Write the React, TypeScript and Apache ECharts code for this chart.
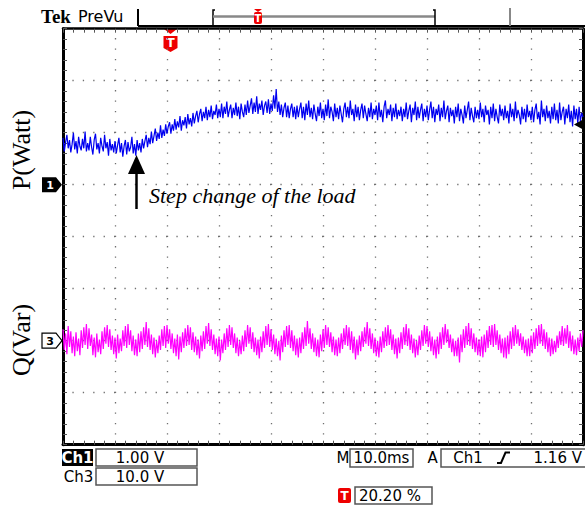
import React, { useEffect, useRef } from "react";
import * as echarts from "echarts";

// Oscilloscope settings
const SAMPLE_MS = 0.25; // time between samples (10 ms/div, 10 divisions)
const TIME_RANGE_MS = [0, 100];
const CH1_VOLTS_PER_DIV = 1; // P(Watt)
const CH3_VOLTS_PER_DIV = 10; // Q(Var)
const CH1_GROUND_DIV = 1;
const CH3_GROUND_DIV = -2;
const TRIGGER_LEVEL_V = 1.16;

// Ch1 trace (V)
const P_VOLTS = [
  0.9, 0.64, 0.82, 0.96, 0.7, 0.86, 0.62, 0.78, 1.0, 0.68, 0.84, 0.6, 0.92, 0.74, 0.66, 0.88, 0.7, 1.02, 0.64, 0.8,
  0.66, 0.92, 0.72, 0.58, 0.86, 0.98, 0.68, 0.8, 0.6, 0.9, 0.74, 0.64, 0.96, 0.7, 0.82, 0.56, 0.88, 0.66, 0.78, 0.62,
  0.84, 0.6, 0.76, 0.9, 0.62, 0.8, 0.54, 0.74, 0.86, 0.58, 0.82, 0.64, 0.72, 0.92, 0.6, 0.78, 0.56, 0.86, 0.66, 0.8,
  0.62, 0.88, 0.7, 0.84, 0.96, 0.72, 0.9, 0.78, 1.02, 0.8, 0.94, 1.08, 0.84, 1.0, 0.88, 1.14, 0.9, 1.06, 0.94, 1.16,
  0.98, 1.12, 1.2, 0.98, 1.16, 1.04, 1.26, 1.06, 1.22, 1.1, 1.32, 1.04, 1.24, 1.14, 1.3, 1.08, 1.36, 1.16, 1.28, 1.12,
  1.38, 1.18, 1.32, 1.42, 1.2, 1.36, 1.46, 1.22, 1.4, 1.28, 1.5, 1.24, 1.44, 1.3, 1.52, 1.26, 1.42, 1.34, 1.54, 1.28,
  1.46, 1.3, 1.56, 1.28, 1.5, 1.36, 1.6, 1.3, 1.44, 1.54, 1.28, 1.48, 1.34, 1.58, 1.32, 1.5, 1.26, 1.56, 1.4, 1.3,
  1.54, 1.34, 1.62, 1.38, 1.52, 1.66, 1.36, 1.58, 1.4, 1.7, 1.36, 1.56, 1.44, 1.62, 1.34, 1.52, 1.6, 1.38, 1.64, 1.36,
  1.56, 1.42, 1.72, 1.46, 1.84, 1.4, 1.6, 1.34, 1.54, 1.3, 1.48, 1.58, 1.3, 1.52, 1.28, 1.46, 1.56, 1.3, 1.5, 1.26,
  1.52, 1.3, 1.46, 1.58, 1.28, 1.5, 1.24, 1.56, 1.34, 1.62, 1.3, 1.48, 1.26, 1.54, 1.36, 1.22, 1.5, 1.32, 1.58, 1.28,
  1.46, 1.24, 1.54, 1.32, 1.64, 1.28, 1.5, 1.4, 1.22, 1.56, 1.3, 1.48, 1.26, 1.52, 1.36, 1.2, 1.46, 1.58, 1.3, 1.5,
  1.28, 1.62, 1.34, 1.46, 1.22, 1.54, 1.3, 1.5, 1.24, 1.44, 1.56, 1.28, 1.52, 1.36, 1.22, 1.48, 1.3, 1.58, 1.26, 1.46,
  1.34, 1.52, 1.24, 1.58, 1.3, 1.44, 1.2, 1.5, 1.62, 1.28, 1.46, 1.34, 1.54, 1.22, 1.48, 1.3, 1.56, 1.26, 1.44, 1.32,
  1.5, 1.22, 1.46, 1.3, 1.58, 1.26, 1.42, 1.54, 1.2, 1.48, 1.34, 1.6, 1.24, 1.5, 1.28, 1.44, 1.56, 1.22, 1.46, 1.3,
  1.52, 1.24, 1.44, 1.6, 1.28, 1.5, 1.2, 1.46, 1.34, 1.54, 1.22, 1.48, 1.3, 1.62, 1.26, 1.42, 1.52, 1.2, 1.48, 1.32,
  1.44, 1.18, 1.5, 1.3, 1.56, 1.22, 1.46, 1.34, 1.18, 1.52, 1.28, 1.44, 1.6, 1.24, 1.48, 1.32, 1.2, 1.5, 1.28, 1.44,
  1.26, 1.58, 1.3, 1.46, 1.2, 1.52, 1.34, 1.44, 1.16, 1.5, 1.28, 1.56, 1.22, 1.46, 1.3, 1.18, 1.54, 1.32, 1.46, 1.24,
  1.52, 1.28, 1.42, 1.18, 1.56, 1.3, 1.46, 1.22, 1.6, 1.28, 1.44, 1.34, 1.16, 1.5, 1.26, 1.46, 1.2, 1.54, 1.3, 1.42,
  1.24, 1.5, 1.2, 1.44, 1.56, 1.26, 1.4, 1.16, 1.62, 1.3, 1.46, 1.22, 1.52, 1.28, 1.42, 1.18, 1.5, 1.26, 1.56, 1.24,
  1.44, 1.18, 1.58, 1.24, 1.4, 1.5, 1.16, 1.46, 1.28, 1.54, 1.2, 1.42, 1.12, 1.52, 1.26, 1.46, 1.18, 1.5, 1.22, 1.38,
  1.3,
];

// Ch3 trace (V)
const Q_VOLTS = [
  2.2, -1.8, 1.4, -2.6, 2.8, -1.2, 1.8, -2.4, 0.8, -3.0, 1.6, -2.0, 0.4, -2.8, 2.0, -1.4, 2.6, -0.8, 3.2, -1.6,
  2.4, -1.0, 1.2, -2.8, 0.6, -3.2, 1.4, -2.2, 0.2, -2.6, 1.8, -1.6, 2.6, -0.6, 3.0, -1.2, 2.2, -1.8, 1.0, -2.6,
  0.6, -3.4, 1.2, -2.4, 0.4, -2.0, 2.0, -1.0, 2.8, -1.4, 3.2, -0.8, 2.0, -2.0, 1.0, -2.8, 0.2, -3.0, 1.4, -2.2,
  1.8, -1.6, 2.6, -0.8, 3.6, -1.2, 2.4, -1.8, 1.2, -2.6, 0.6, -3.2, 0.0, -2.4, 1.0, -1.8, 2.2, -1.0, 2.8, -1.4,
  3.0, -0.6, 2.2, -1.6, 1.4, -2.4, 0.4, -3.0, 1.2, -3.6, 0.8, -2.2, 1.6, -1.4, 2.4, -1.0, 3.0, -0.8, 2.6, -1.8,
  1.6, -2.2, 0.8, -2.8, 0.2, -3.4, 1.0, -2.0, 1.8, -1.6, 2.8, -0.6, 3.4, -1.0, 2.2, -1.8, 1.2, -2.6, 0.4, -3.0,
  0.8, -3.8, 0.2, -2.4, 1.4, -1.8, 2.4, -1.2, 3.0, -0.8, 2.6, -1.4, 1.4, -2.4, 0.6, -3.0, 0.0, -2.6, 1.0, -2.0,
  2.0, -1.2, 3.0, -0.6, 2.6, -1.6, 1.6, -2.2, 0.6, -2.8, 0.2, -3.4, 0.8, -2.2, 1.8, -1.4, 2.8, -0.8, 3.2, -1.2,
  2.2, -1.8, 1.2, -2.6, 0.4, -3.0, 0.0, -3.8, 1.0, -2.2, 2.0, -1.2, 2.8, -0.8, 3.0, -1.4, 2.0, -2.0, 1.0, -2.8,
  0.4, -3.2, 0.6, -2.4, 1.6, -1.6, 2.6, -1.0, 3.8, -0.6, 2.4, -1.6, 1.4, -2.2, 0.6, -3.0, 0.2, -3.2, 1.2, -2.0,
  2.2, -1.4, 3.0, -0.8, 2.6, -1.2, 1.6, -2.2, 0.8, -2.8, 0.2, -3.0, 0.6, -2.4, 1.4, -1.6, 2.4, -0.8, 3.0, -1.0,
  2.6, -1.8, 1.8, -2.4, 0.8, -3.6, 0.2, -2.8, 1.0, -2.0, 1.8, -1.2, 2.6, -0.6, 3.6, -1.0, 2.4, -1.6, 1.4, -2.4,
  0.6, -3.0, 0.0, -3.2, 0.8, -2.2, 1.8, -1.4, 2.6, -1.0, 3.0, -0.8, 2.2, -1.8, 1.2, -2.6, 0.4, -3.4, 0.6, -2.4,
  1.6, -1.6, 2.6, -0.8, 3.2, -1.0, 2.4, -1.8, 1.2, -2.4, 0.4, -3.2, 0.0, -2.8, 1.0, -1.8, 2.0, -1.0, 3.0, -0.6,
  2.8, -1.2, 1.8, -2.0, 0.8, -2.8, 0.2, -3.4, 0.8, -2.6, 1.6, -1.6, 2.6, -0.8, 3.2, -0.4, 2.2, -1.4, 1.2, -2.2,
  0.4, -3.0, 0.0, -3.0, 0.6, -4.2, 1.2, -2.2, 2.2, -1.4, 2.8, -0.8, 3.4, -1.0, 2.4, -1.6, 1.4, -2.2, 0.6, -2.8,
  0.2, -3.0, 0.8, -3.2, 1.2, -2.2, 2.0, -1.4, 2.8, -0.8, 3.0, -1.2, 3.2, -0.8, 2.0, -1.8, 1.2, -2.4, 0.4, -3.2,
  0.6, -3.4, 1.0, -2.6, 1.8, -1.6, 2.6, -1.0, 3.0, -0.6, 2.2, -1.0, 1.4, -1.8, 0.8, -2.4, 0.2, -3.0, 0.4, -3.0,
  1.0, -2.4, 1.6, -1.6, 2.4, -1.0, 3.0, -0.6, 3.2, -1.0, 2.2, -1.6, 1.6, -2.2, 0.6, -3.0, 0.4, -2.6, 0.0, -2.2,
  1.0, -1.4, 1.8, -0.8, 2.8, -1.0, 2.4, -0.6, 3.0, -1.4, 1.8, -2.0, 1.0, -2.6, 0.2, -2.8, 0.6, -2.0, 1.4, -1.2,
  2.0,
];

// Screen texts
const CH1_LABEL = "P(Watt)";
const CH3_LABEL = "Q(Var)";
const ANNOTATION = "Step change of the load";
const CH1_SCALE = "1.00 V";
const CH3_SCALE = "10.0 V";
const TIMEBASE = "10.0ms";
const TRIGGER_SOURCE = "Ch1";
const TRIGGER_LEVEL = "1.16 V";
const TRIGGER_POS = "20.20 %";

const SANS = '"DejaVu Sans", sans-serif';
const SERIF = '"Liberation Serif", "Times New Roman", serif';

const txt = (x: number, y: number, text: string, font: string, fill = "#000", align = "left", extra: any = {}) => ({
  type: "text",
  x,
  y,
  style: { text, font, fill, align, verticalAlign: "middle", textAlign: align, textVerticalAlign: "middle" },
  ...extra,
});

const box = (x: number, y: number, w: number, h: number) => ({
  type: "rect",
  shape: { x, y, width: w, height: h },
  style: { fill: "none", stroke: "#555", lineWidth: 1.5 },
});

const tBadge = (cx: number, y: number, w: number, h: number, size: number) => [
  {
    type: "rect",
    shape: { x: cx - w / 2, y, width: w, height: h, r: 2 },
    style: { fill: "#ee0000" },
  },
  txt(cx, y + h / 2 + 0.5, "T", `bold ${size}px ${SANS}`, "#fff", "center"),
];

export default function App() {
  const ref = useRef<HTMLDivElement>(null);
  useEffect(() => {
    document.body.style.margin = "0";
    if (!ref.current) return;
    const chart = echarts.init(ref.current, null, { renderer: "svg" });

    const pData = P_VOLTS.map((v, i) => [i * SAMPLE_MS, v / CH1_VOLTS_PER_DIV + CH1_GROUND_DIV]);
    const qData = Q_VOLTS.map((v, i) => [i * SAMPLE_MS, v / CH3_VOLTS_PER_DIV + CH3_GROUND_DIV]);

    const dotted = { color: "#6f6f6f", width: 1.3, type: [1.3, 9.1], dashOffset: 0.65 };
    const tick = { show: true, inside: true, length: 4, lineStyle: { color: "#555", width: 1 } };
    const minor = { show: true, splitNumber: 5, length: 4, lineStyle: { color: "#555", width: 1 } };
    const frame = { show: true, onZero: false, lineStyle: { color: "#000", width: 3 } };

    const gridTop = 28.7;
    const gridH = 416;
    const divPx = gridH / 8;
    const trigY = gridTop + gridH / 2 - (TRIGGER_LEVEL_V / CH1_VOLTS_PER_DIV + CH1_GROUND_DIV) * divPx;
    const ch1Y = gridTop + gridH / 2 - CH1_GROUND_DIV * divPx;
    const ch3Y = gridTop + gridH / 2 - CH3_GROUND_DIV * divPx;

    const graphics: any[] = [
      // top status bar
      txt(41, 16, "Tek", `bold 19px ${SERIF}`),
      txt(78, 16, "PreVu", `16px ${SANS}`),
      { type: "line", shape: { x1: 138, y1: 9, x2: 138, y2: 26 }, style: { stroke: "#000", lineWidth: 2 } },
      { type: "line", shape: { x1: 138, y1: 26, x2: 585, y2: 26 }, style: { stroke: "#000", lineWidth: 2 } },
      { type: "polyline", shape: { points: [[215, 10], [213, 10], [213, 26]] }, style: { stroke: "#000", lineWidth: 1.5, fill: "none" } },
      { type: "line", shape: { x1: 213, y1: 16.5, x2: 435, y2: 16.5 }, style: { stroke: "#888", lineWidth: 2.5 } },
      { type: "polyline", shape: { points: [[433, 10], [435, 10], [435, 26]] }, style: { stroke: "#000", lineWidth: 1.5, fill: "none" } },
      { type: "line", shape: { x1: 510, y1: 8, x2: 510, y2: 26 }, style: { stroke: "#888", lineWidth: 2 } },
      { type: "polygon", shape: { points: [[254, 9], [262, 9], [258, 12]] }, style: { fill: "#ee0000" } },
      ...tBadge(258, 12, 8, 12, 10),
      // trigger position marker
      { type: "polygon", shape: { points: [[164, 29], [177, 29], [170.5, 34]] }, style: { fill: "#ee0000" } },
      { type: "polygon", shape: { points: [[163.5, 36], [177.5, 36], [177.5, 48], [170.5, 52], [163.5, 48]] }, style: { fill: "#ee0000" } },
      txt(170.5, 43, "T", `bold 12px ${SANS}`, "#fff", "center"),
      // channel ground markers
      { type: "polygon", shape: { points: [[42, ch1Y - 7.5], [56, ch1Y - 7.5], [62, ch1Y], [56, ch1Y + 7.5], [42, ch1Y + 7.5]] }, style: { fill: "#000" } },
      txt(50, ch1Y + 0.5, "1", `bold 11px ${SANS}`, "#fff", "center"),
      { type: "polygon", shape: { points: [[42, ch3Y - 7.5], [56, ch3Y - 7.5], [62, ch3Y], [56, ch3Y + 7.5], [42, ch3Y + 7.5]] }, style: { fill: "#fff", stroke: "#000", lineWidth: 1.2 } },
      txt(50, ch3Y + 0.5, "3", `bold 11px ${SANS}`, "#000", "center"),
      // trigger level marker
      { type: "polygon", shape: { points: [[574, trigY], [583, trigY - 5], [583, trigY + 5]] }, style: { fill: "#000" }, z: 10 },
      // axis titles
      txt(21, 150, CH1_LABEL, `26px ${SERIF}`, "#000", "center", { rotation: Math.PI / 2 }),
      txt(21, 340, CH3_LABEL, `26px ${SERIF}`, "#000", "center", { rotation: Math.PI / 2 }),
      // annotation
      txt(149, 195, ANNOTATION, `italic 22px ${SERIF}`),
      { type: "line", shape: { x1: 136.5, y1: 170, x2: 136.5, y2: 209 }, style: { stroke: "#000", lineWidth: 2.5 }, z: 10 },
      { type: "polygon", shape: { points: [[136.5, 155], [145, 174], [128, 174]] }, style: { fill: "#000" }, z: 10 },
      // bottom readouts
      { type: "rect", shape: { x: 62, y: 449, width: 31, height: 17 }, style: { fill: "#000" } },
      txt(77.5, 458, "Ch1", `bold 15px ${SANS}`, "#fff", "center"),
      box(96, 449, 101, 17),
      txt(140, 458, CH1_SCALE, `15px ${SANS}`, "#000", "center"),
      txt(78.5, 476.5, "Ch3", `15px ${SANS}`, "#000", "center"),
      box(96, 468, 101, 17),
      txt(140, 476.5, CH3_SCALE, `15px ${SANS}`, "#000", "center"),
      txt(343, 458, "M", `15px ${SANS}`, "#000", "center"),
      box(350, 449, 63, 18),
      txt(381.5, 458, TIMEBASE, `15px ${SANS}`, "#000", "center"),
      txt(432.5, 458, "A", `15px ${SANS}`, "#000", "center"),
      box(441, 449, 150, 18),
      txt(468, 458, TRIGGER_SOURCE, `15px ${SANS}`, "#000", "center"),
      { type: "polyline", shape: { points: [[497, 463], [501, 463], [505.5, 452.5], [510, 452.5]] }, style: { stroke: "#000", lineWidth: 2, fill: "none" } },
      txt(582, 458, TRIGGER_LEVEL, `15px ${SANS}`, "#000", "right"),
      ...tBadge(344.5, 488, 13, 15, 12),
      box(355, 487, 77, 17),
      txt(359, 495.5, TRIGGER_POS, `15px ${SANS}`, "#000", "left"),
    ];

    chart.setOption({
      animation: false,
      backgroundColor: "#fff",
      grid: { left: 63, top: gridTop, width: 520, height: gridH, containLabel: false },
      xAxis: [
        {
          type: "value",
          min: TIME_RANGE_MS[0],
          max: TIME_RANGE_MS[1],
          interval: 10,
          position: "bottom",
          axisLine: frame,
          axisTick: tick,
          minorTick: minor,
          axisLabel: { show: false },
          splitLine: { show: true, lineStyle: dotted },
        },
        {
          type: "value",
          min: TIME_RANGE_MS[0],
          max: TIME_RANGE_MS[1],
          interval: 10,
          position: "top",
          axisLine: { ...frame, lineStyle: { color: "#000", width: 2.5 } },
          axisTick: tick,
          minorTick: minor,
          axisLabel: { show: false },
          splitLine: { show: false },
        },
      ],
      yAxis: [
        {
          type: "value",
          min: -4,
          max: 4,
          interval: 1,
          position: "left",
          axisLine: frame,
          axisTick: tick,
          minorTick: minor,
          axisLabel: { show: false },
          splitLine: { show: true, lineStyle: dotted },
        },
        {
          type: "value",
          min: -4,
          max: 4,
          interval: 1,
          position: "right",
          axisLine: frame,
          axisTick: tick,
          minorTick: minor,
          axisLabel: { show: false },
          splitLine: { show: false },
        },
      ],
      series: [
        {
          type: "line",
          name: CH1_LABEL,
          xAxisIndex: 0,
          yAxisIndex: 0,
          data: pData,
          symbol: "none",
          showSymbol: false,
          lineStyle: { color: "#0000f0", width: 1.2 },
          z: 3,
        },
        {
          type: "line",
          name: CH3_LABEL,
          xAxisIndex: 0,
          yAxisIndex: 0,
          data: qData,
          symbol: "none",
          showSymbol: false,
          lineStyle: { color: "#ff00ff", width: 1.2 },
          z: 3,
        },
      ],
      graphic: graphics,
    });
    return () => chart.dispose();
  }, []);
  return <div ref={ref} style={{ position: "fixed", left: 0, top: 0, width: 585, height: 509 }} />;
}
